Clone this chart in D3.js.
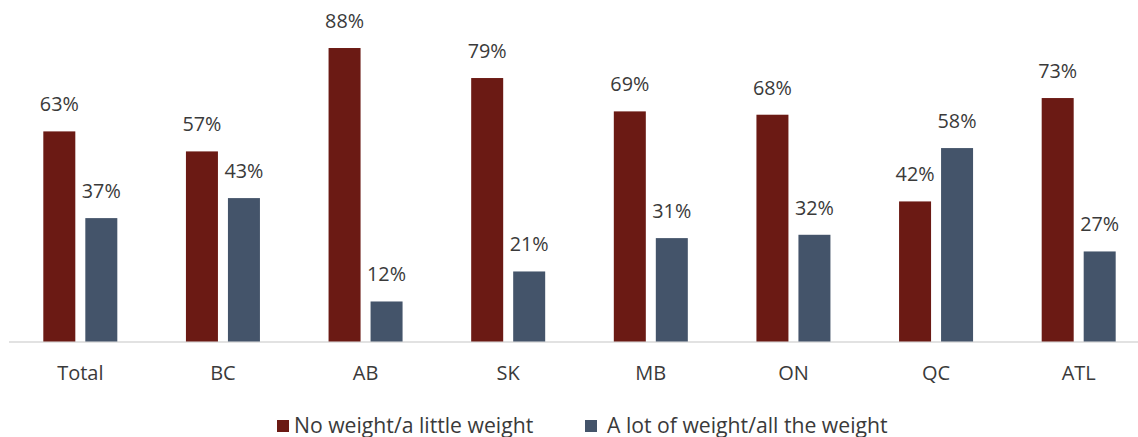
<!DOCTYPE html>
<html>
<head>
<meta charset="utf-8">
<script src="https://cdn.jsdelivr.net/npm/d3@7"></script>
<style>
  html, body { margin: 0; padding: 0; background: #ffffff; }
  svg { display: block; }
  text { font-family: "Open Sans", "Noto Sans", sans-serif; fill: #3a3a3a; }
</style>
</head>
<body>
<svg id="chart" width="1138" height="437"></svg>
<script>
// Regions and the two answer groups
const categories = ["Total", "BC", "AB", "SK", "MB", "ON", "QC", "ATL"];
const seriesNames = ["No weight/a little weight", "A lot of weight/all the weight"];
const littleWeight = [63, 57, 88, 79, 69, 68, 42, 73];
const lotOfWeight = [37, 43, 12, 21, 31, 32, 58, 27];
const seriesColors = ["#6b1a14", "#44546a"];

const width = 1138, height = 437;
const svg = d3.select("#chart");

const baseline = 341.5;
const y = d3.scaleLinear().domain([0, 100]).range([baseline, 8]);

const x0 = d3.scaleBand().domain(categories).range([9, 1150]).paddingInner(0).paddingOuter(0);
const x1 = d3.scaleBand().domain(seriesNames).range([0, 74]).paddingInner(10 / 42).paddingOuter(0);

const rows = categories.map((c, i) => ({
  category: c,
  values: [
    { series: seriesNames[0], value: littleWeight[i], color: seriesColors[0] },
    { series: seriesNames[1], value: lotOfWeight[i], color: seriesColors[1] }
  ]
}));

// baseline axis
svg.append("line")
  .attr("x1", 9).attr("x2", width)
  .attr("y1", baseline + 0.5).attr("y2", baseline + 0.5)
  .attr("stroke", "#d9d9d9").attr("stroke-width", 1.5);

const groups = svg.selectAll("g.group")
  .data(rows)
  .join("g")
  .attr("class", "group")
  .attr("transform", d => `translate(${x0(d.category) + x0.bandwidth() / 2 - 37},0)`);

groups.selectAll("rect")
  .data(d => d.values)
  .join("rect")
  .attr("x", d => x1(d.series))
  .attr("width", x1.bandwidth())
  .attr("y", d => y(d.value))
  .attr("height", d => baseline - y(d.value))
  .attr("fill", d => d.color);

groups.selectAll("text.value")
  .data(d => d.values)
  .join("text")
  .attr("class", "value")
  .attr("x", d => x1(d.series) + x1.bandwidth() / 2)
  .attr("y", d => y(d.value) - 20)
  .attr("text-anchor", "middle")
  .style("font-size", "19.8px")
  .text(d => d.value + "%");

// category labels
const xAxis = d3.axisBottom(x0).tickSize(0).tickPadding(0);
const axisG = svg.append("g")
  .attr("transform", `translate(0,${baseline})`)
  .call(xAxis);
axisG.select(".domain").remove();
axisG.selectAll("text")
  .attr("y", 38.5)
  .attr("dy", null)
  .style("font-size", "20px")
  .style("font-family", "\"Open Sans\", sans-serif")
  .attr("fill", "#3a3a3a");

// legend
const legendItems = [
  { name: seriesNames[0], color: seriesColors[0], x: 277, textX: 17 },
  { name: seriesNames[1], color: seriesColors[1], x: 585, textX: 22 }
];
const legend = svg.selectAll("g.legend")
  .data(legendItems)
  .join("g")
  .attr("class", "legend")
  .attr("transform", d => `translate(${d.x},420)`);
legend.append("rect")
  .attr("width", 12).attr("height", 12)
  .attr("fill", d => d.color);
legend.append("text")
  .attr("x", d => d.textX).attr("y", 12.5)
  .style("font-size", "21.2px")
  .text(d => d.name);
</script>
</body>
</html>
